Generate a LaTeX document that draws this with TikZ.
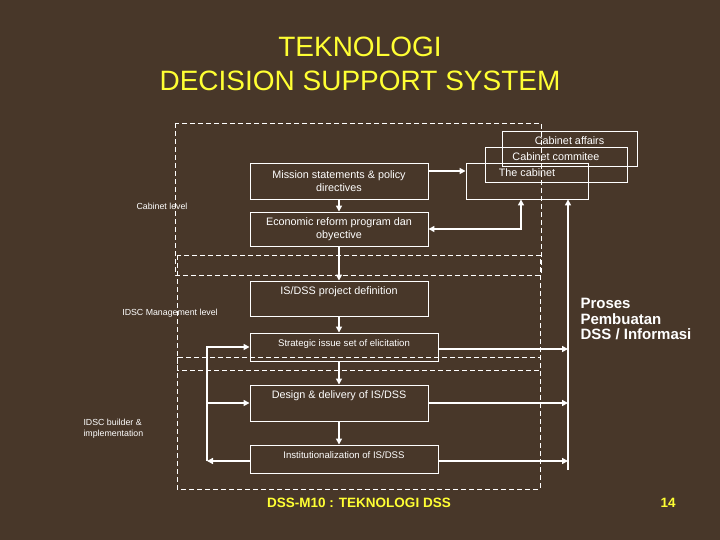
\documentclass[tikz,border=0pt]{standalone}
\usepackage{fontspec}
\setmainfont{Liberation Sans}
\usetikzlibrary{arrows.meta,positioning}

\definecolor{woodbg}{RGB}{72,55,41}
\definecolor{titleyellow}{RGB}{255,255,51}

\begin{document}
\begin{tikzpicture}[
    x=1pt,
    y=-1pt,
    >={Triangle[width=6pt,length=6pt]},
    stepbox/.style={
        draw=white,
        line width=0.9pt,
        rectangle,
        text=white,
        align=center,
        inner sep=2pt,
        font=\fontsize{10.8}{13}\selectfont
    },
    topbox/.style={
        stepbox,
        inner ysep=3pt,
        text height=10.6pt,
        text depth=#1
    },
    flow/.style={
        ->,
        white,
        line width=1.8pt
    },
    region/.style={
        draw=white,
        line width=0.9pt,
        dash pattern=on 5pt off 3pt
    },
    levellabel/.style={
        text=white,
        font=\fontsize{8.8}{11}\selectfont
    },
    smalltext/.style={
        font=\fontsize{9.6}{11}\selectfont
    }
]

% background
\fill[woodbg] (0,0) rectangle (720,540);
\useasboundingbox (0,0) rectangle (720,540);

% ============================================================
% Title and footer
% ============================================================
\node[text=titleyellow, font=\fontsize{28}{34}\selectfont, align=center]
    (title) at (360,64) {TEKNOLOGI\\DECISION SUPPORT SYSTEM};

\node[text=titleyellow, font=\fontsize{13.5}{15}\selectfont\bfseries]
    (footer) at (359,503) {DSS-M10 : TEKNOLOGI DSS};
\node[text=titleyellow, font=\fontsize{13.5}{15}\selectfont\bfseries]
    (pagenum) at (668,503) {14};

% ============================================================
% Levels
% ============================================================
\draw[region] (175,123) rectangle (541,275);
\draw[region] (177,255) rectangle (540,370);
\draw[region] (177,357) rectangle (540,489);

\node[levellabel] (lbl-cabinet) at (162,206) {Cabinet level};
\node[levellabel] (lbl-mgmt)    at (170,313) {IDSC Management level};
\node[levellabel, align=left, anchor=west] (lbl-builder) at (80,429)
    {IDSC builder \&\\ implementation};

% ------------------------------------------------------------
% Cabinet stack
% ------------------------------------------------------------
\node[topbox=18.4pt, minimum width=135pt, minimum height=35pt]
    (affairs) at (569.5,148.5) {Cabinet affairs};
\node[topbox=18.4pt, minimum width=142pt, minimum height=35pt]
    (committee) at (556,164.5) {Cabinet commitee};
\node[topbox=19.4pt, minimum width=122pt, minimum height=36pt]
    (cabinet) at (527,181) {The cabinet};

% ------------------------------------------------------------
% Process steps
% ------------------------------------------------------------
\node[stepbox, minimum width=178pt, minimum height=36pt]
    (mission) at (339,181) {Mission statements \& policy\\directives};
\node[stepbox, minimum width=178pt, minimum height=34pt]
    (reform) at (339,229) {Economic reform program dan\\obyective};
\node[topbox=18.4pt, minimum width=178pt, minimum height=35pt]
    (projdef) at (339,298.5) {IS/DSS project definition};
\node[topbox=11.4pt, smalltext, minimum width=188pt, minimum height=28pt]
    (issues) at (344,347) {Strategic issue set of elicitation};
\node[topbox=19.4pt, minimum width=178pt, minimum height=36pt]
    (design) at (339,403) {Design \& delivery of IS/DSS};
\node[topbox=11.4pt, smalltext, minimum width=188pt, minimum height=28pt]
    (instit) at (344,459) {Institutionalization of IS/DSS};

\node[text=white, font=\fontsize{15}{15.5}\selectfont\bfseries,
      align=left, anchor=west]
    (proses) at (577,319) {Proses\\Pembuatan\\DSS / Informasi};

% ============================================================
% Connectors
% ============================================================
\draw[flow] ([yshift=10pt]mission.east) -- ([yshift=10pt]mission.east -| cabinet.west);
\draw[flow] (mission.south) -- (reform.north);
\draw[flow, <->] ([xshift=-6pt]cabinet.south) |- (reform.east);

\draw[flow] (reform.south) -- (projdef.north);
\draw[flow] (projdef.south) -- (projdef.south |- issues.north);
\draw[flow] (design.north |- issues.south) -- (design.north);
\draw[flow] (design.south) -- (design.south |- instit.north);

% right bus up to the cabinet
\coordinate (bus-bot) at (568,470);
\draw[flow] (bus-bot) -- (bus-bot |- cabinet.south);
\draw[flow] ([yshift=-2pt]issues.east) -- ([yshift=-2pt]issues.east -| bus-bot);
\draw[flow] (design.east) -- (design.east -| bus-bot);
\draw[flow] ([yshift=-2pt]instit.east) -- ([yshift=-2pt]instit.east -| bus-bot);

% feedback loop on the left
\coordinate (fb-bot) at (207,461);
\draw[flow] (instit.west |- fb-bot) -- (fb-bot);
\draw[flow] (fb-bot) |- (issues.west);
\draw[flow] (design.west -| fb-bot) -- (design.west);

\end{tikzpicture}
\end{document}
